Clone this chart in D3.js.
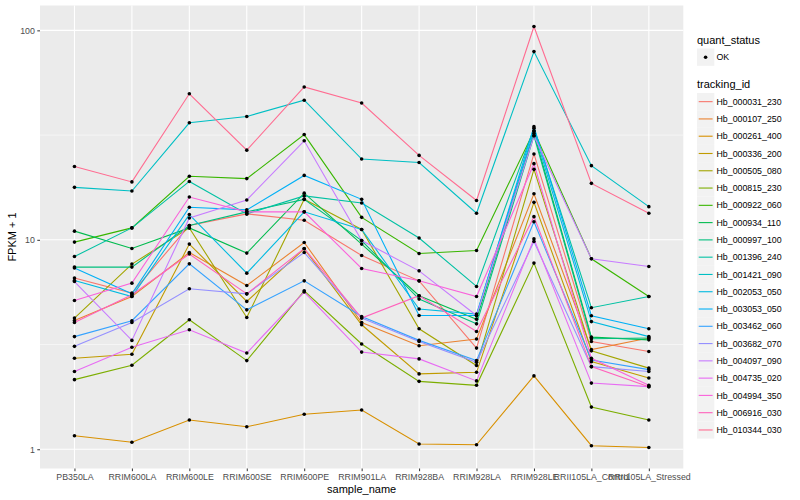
<!DOCTYPE html>
<html>
<head>
<meta charset="utf-8">
<script src="https://cdn.jsdelivr.net/npm/d3@7"></script>
<style>
  body { margin: 0; background: #fff; }
  text { font-family: "Liberation Sans", Arial, Helvetica, sans-serif; }
</style>
</head>
<body>
<script>
var samples = ['PB350LA', 'RRIM600LA', 'RRIM600LE', 'RRIM600SE', 'RRIM600PE', 'RRIM901LA',
  'RRIM928BA', 'RRIM928LA', 'RRIM928LE', 'RRII105LA_Control', 'RRII105LA_Stressed'];

var trackingIds = ['Hb_000031_230', 'Hb_000107_250', 'Hb_000261_400', 'Hb_000336_200', 'Hb_000505_080',
  'Hb_000815_230', 'Hb_000922_060', 'Hb_000934_110', 'Hb_000997_100', 'Hb_001396_240',
  'Hb_001421_090', 'Hb_002053_050', 'Hb_003053_050', 'Hb_003462_060', 'Hb_003682_070',
  'Hb_004097_090', 'Hb_004735_020', 'Hb_004994_350', 'Hb_006916_030', 'Hb_010344_030'];

// FPKM + 1, one row per tracking id, one value per sample
var fpkm = [
  [6.57, 5.57, 11.7, 13.3, 12.4, 8.42, 6.37, 3.04, 25.7, 3.27, 2.93],
  [4.12, 5.36, 8.70, 6.05, 9.71, 4.03, 3.12, 3.36, 16.6, 2.99, 3.40],
  [1.16, 1.08, 1.38, 1.28, 1.47, 1.54, 1.06, 1.05, 2.24, 1.04, 1.02],
  [2.72, 2.84, 9.54, 5.08, 9.06, 3.93, 2.29, 2.33, 15.1, 2.62, 2.19],
  [4.23, 7.66, 11.4, 4.26, 15.6, 11.2, 3.76, 2.51, 21.7, 2.95, 2.44],
  [2.15, 2.52, 4.15, 2.65, 5.71, 3.18, 2.11, 2.02, 7.74, 1.59, 1.38],
  [9.75, 11.4, 20.1, 19.6, 31.8, 12.8, 8.60, 8.89, 33.1, 8.12, 5.36],
  [11.0, 9.09, 11.4, 8.64, 16.7, 9.54, 5.41, 4.18, 32.3, 3.43, 3.33],
  [7.41, 7.41, 11.7, 13.6, 15.6, 9.92, 5.21, 3.97, 31.4, 3.37, 3.40],
  [8.32, 11.4, 19.0, 13.3, 16.2, 15.0, 10.2, 5.99, 34.1, 4.74, 5.36],
  [17.8, 17.1, 36.2, 38.8, 46.4, 24.3, 23.4, 13.4, 79.2, 22.6, 14.4],
  [6.39, 5.36, 13.2, 6.93, 13.6, 11.2, 4.67, 4.42, 33.1, 4.07, 3.45],
  [7.33, 5.52, 14.3, 13.9, 20.3, 15.6, 4.35, 4.35, 34.7, 4.34, 3.76],
  [3.45, 4.11, 7.68, 4.63, 6.37, 4.30, 3.31, 2.65, 12.2, 2.67, 2.40],
  [3.10, 4.03, 5.84, 5.52, 8.70, 4.23, 3.27, 2.60, 9.81, 2.48, 2.35],
  [6.32, 3.31, 12.7, 15.5, 29.7, 9.92, 7.11, 4.35, 31.4, 8.12, 7.46],
  [2.35, 3.07, 3.72, 2.88, 5.63, 2.91, 2.70, 2.12, 10.1, 2.07, 1.99],
  [5.13, 6.21, 16.0, 13.6, 13.6, 7.30, 6.37, 5.36, 23.1, 2.72, 2.02],
  [4.03, 5.47, 8.55, 5.52, 9.09, 4.23, 5.41, 3.65, 12.9, 2.48, 1.99],
  [22.4, 18.9, 49.8, 26.8, 53.7, 45.0, 25.3, 15.4, 104.3, 18.6, 13.4]
];

var yTicks = [1, 10, 100];
var yMinor = [Math.sqrt(10), Math.sqrt(1000)];

var hues = ['#F8766D', '#EA8331', '#D89000', '#C09B00', '#A3A500', '#7CAE00', '#39B600', '#00BB4E',
  '#00BF7D', '#00C1A3', '#00BFC4', '#00BAE0', '#00B0F6', '#35A2FF', '#9590FF', '#C77CFF',
  '#E76BF3', '#FA62DB', '#FF62BC', '#FF6C91'];

var panel = { left: 40, right: 683.3, top: 5.5, bottom: 468.5 };

var series = trackingIds.map(function(id, i) {
  return { id: id, values: fpkm[i].map(function(v, j) { return { sample: samples[j], value: v }; }) };
});

var allValues = d3.merge(fpkm);
var lo = Math.log10(d3.min(allValues)), hi = Math.log10(d3.max(allValues));
var pad = (hi - lo) * 0.05;

var x = d3.scalePoint()
  .domain(samples)
  .range([panel.left, panel.right])
  .padding(0.6);

var y = d3.scaleLog()
  .domain([Math.pow(10, lo - pad), Math.pow(10, hi + pad)])
  .range([panel.bottom, panel.top]);

var color = d3.scaleOrdinal().domain(trackingIds).range(hues);

var svg = d3.select('body').append('svg')
  .attr('width', 800)
  .attr('height', 500);

svg.append('rect')
  .attr('x', panel.left)
  .attr('y', panel.top)
  .attr('width', panel.right - panel.left)
  .attr('height', panel.bottom - panel.top)
  .attr('fill', '#EBEBEB');

// grid
svg.selectAll('.minor').data(yMinor).enter().append('line')
  .attr('x1', panel.left).attr('x2', panel.right)
  .attr('y1', function(d) { return y(d); }).attr('y2', function(d) { return y(d); })
  .attr('stroke', '#fff').attr('stroke-width', 0.55);

svg.selectAll('.ymajor').data(yTicks).enter().append('line')
  .attr('x1', panel.left).attr('x2', panel.right)
  .attr('y1', function(d) { return y(d); }).attr('y2', function(d) { return y(d); })
  .attr('stroke', '#fff').attr('stroke-width', 1.1);

svg.selectAll('.xmajor').data(samples).enter().append('line')
  .attr('x1', function(d) { return x(d); }).attr('x2', function(d) { return x(d); })
  .attr('y1', panel.top).attr('y2', panel.bottom)
  .attr('stroke', '#fff').attr('stroke-width', 1.1);

// lines
var line = d3.line()
  .x(function(d) { return x(d.sample); })
  .y(function(d) { return y(d.value); });

svg.selectAll('.series').data(series).enter().append('path')
  .attr('d', function(d) { return line(d.values); })
  .attr('fill', 'none')
  .attr('stroke', function(d) { return color(d.id); })
  .attr('stroke-width', 1.1);

// points
svg.selectAll('.pt').data(d3.merge(series.map(function(s) { return s.values; }))).enter().append('circle')
  .attr('cx', function(d) { return x(d.sample); })
  .attr('cy', function(d) { return y(d.value); })
  .attr('r', 1.8)
  .attr('fill', '#000');

// axes
var xAxis = svg.append('g')
  .attr('transform', 'translate(0,' + panel.bottom + ')')
  .call(d3.axisBottom(x).tickSize(2.7).tickPadding(2.5));

var yAxis = svg.append('g')
  .attr('transform', 'translate(' + panel.left + ',0)')
  .call(d3.axisLeft(y).tickValues(yTicks).tickFormat(d3.format('d')).tickSize(2.7).tickPadding(2.5));

[xAxis, yAxis].forEach(function(a) {
  a.select('.domain').remove();
  a.selectAll('.tick line').attr('stroke', '#333').attr('stroke-width', 1);
  a.selectAll('.tick text').attr('fill', '#4D4D4D').style('font-size', '8.8px');
});

svg.append('text')
  .attr('x', (panel.left + panel.right) / 2)
  .attr('y', 493)
  .attr('text-anchor', 'middle')
  .style('font-size', '11px')
  .text('sample_name');

svg.append('text')
  .attr('transform', 'translate(16,' + ((panel.top + panel.bottom) / 2) + ') rotate(-90)')
  .attr('text-anchor', 'middle')
  .style('font-size', '11px')
  .text('FPKM + 1');

// legends
var lg = svg.append('g').attr('transform', 'translate(697,0)');

lg.append('text').attr('x', 0).attr('y', 44).style('font-size', '11px').text('quant_status');
lg.append('rect').attr('x', 0).attr('y', 48.5).attr('width', 17.3).attr('height', 17.3).attr('fill', '#F2F2F2');
lg.append('circle').attr('cx', 8.6).attr('cy', 57.2).attr('r', 1.8).attr('fill', '#000');
lg.append('text').attr('x', 19.5).attr('y', 60.3).style('font-size', '8.8px').attr('fill', '#000').text('OK');

lg.append('text').attr('x', 0).attr('y', 88).style('font-size', '11px').text('tracking_id');

var keys = lg.selectAll('.key').data(trackingIds).enter().append('g')
  .attr('transform', function(d, i) { return 'translate(0,' + (93 + i * 17.28) + ')'; });

keys.append('rect')
  .attr('width', 17.3).attr('height', 17.3)
  .attr('fill', '#F2F2F2');

keys.append('line')
  .attr('x1', 1.7).attr('x2', 15.6)
  .attr('y1', 8.65).attr('y2', 8.65)
  .attr('stroke', function(d) { return color(d); })
  .attr('stroke-width', 1.1);

keys.append('text')
  .attr('x', 19.5).attr('y', 11.8)
  .style('font-size', '8.8px')
  .text(function(d) { return d; });
</script>
</body>
</html>
